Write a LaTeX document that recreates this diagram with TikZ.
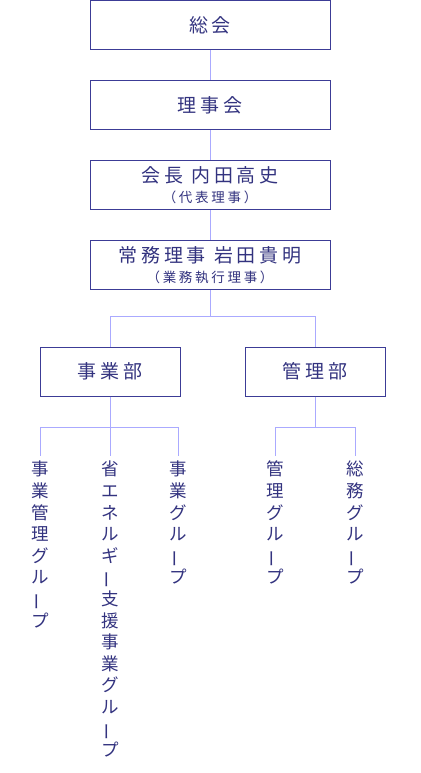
\documentclass[tikz,border=0pt]{standalone}
\usepackage{fontspec}
\newfontfamily\jpfont{Noto Sans CJK JP}
\newfontfamily\jpwide[LetterSpace=20]{Noto Sans CJK JP}
\definecolor{navy}{HTML}{33337F}
\definecolor{boxline}{HTML}{3C3C96}
\definecolor{linkline}{HTML}{AAAAFF}
\newcommand{\cho}{\rotatebox[origin=c]{90}{ー}}
\tikzset{
  orgbox/.style={draw=boxline,line width=1pt,text=navy,minimum height=49pt,align=center,inner sep=0pt,font=\jpwide\fontsize{19}{20}\selectfont},
  widebox/.style={orgbox,minimum width=240pt},
  deptbox/.style={orgbox,minimum width=140pt},
  tate/.style={text=navy,align=center,inner sep=5pt,anchor=north,font=\jpfont\fontsize{17.5}{21.6}\selectfont},
  link/.style={draw=linkline,line width=1pt}
}

\begin{document}
\begin{tikzpicture}[x=1pt,y=1pt]
  \useasboundingbox (0,0) rectangle (420,-773);
  % boxes
  \node[widebox] (sokai) at (210,-25) {総会};
  \node[widebox] (rijikai) at (210,-105) {理事会};
  \node[widebox] (kaicho) at (210,-185) {会長 内田高史\\{\fontsize{13.5}{15}\selectfont （代表理事）}};
  \node[widebox] (jomu) at (210,-265) {常務理事 岩田貴明\\{\fontsize{13.5}{15}\selectfont （業務執行理事）}};
  \node[deptbox] (jigyobu) at (110,-371.5) {事業部};
  \node[deptbox] (kanribu) at (315,-371.5) {管理部};
  % groups
  \node[tate] (g1) at (40,-456) {事\\業\\管\\理\\グ\\ル\\\cho\\プ};
  \node[tate] (g2) at (110,-456) {省\\エ\\ネ\\ル\\ギ\\\cho\\支\\援\\事\\業\\グ\\ル\\\cho\\プ};
  \node[tate] (g3) at (178,-456) {事\\業\\グ\\ル\\\cho\\プ};
  \node[tate] (g4) at (275,-456) {管\\理\\グ\\ル\\\cho\\プ};
  \node[tate] (g5) at (355,-456) {総\\務\\グ\\ル\\\cho\\プ};
  % lines
  \draw[link] (sokai) -- (rijikai) -- (kaicho) -- (jomu);
  \draw[link] (jomu.south) -- ++(0,-26.5) -| (jigyobu.north);
  \draw[link] (jomu.south) ++(0,-26.5) -| (kanribu.north);
  \draw[link] (jigyobu.south) -- ++(0,-31) -| (g1.north);
  \draw[link] (jigyobu.south) -- (g2.north);
  \draw[link] (jigyobu.south) ++(0,-31) -| (g3.north);
  \draw[link] (kanribu.south) -- ++(0,-31) -| (g4.north);
  \draw[link] (kanribu.south) ++(0,-31) -| (g5.north);
\end{tikzpicture}
\end{document}
